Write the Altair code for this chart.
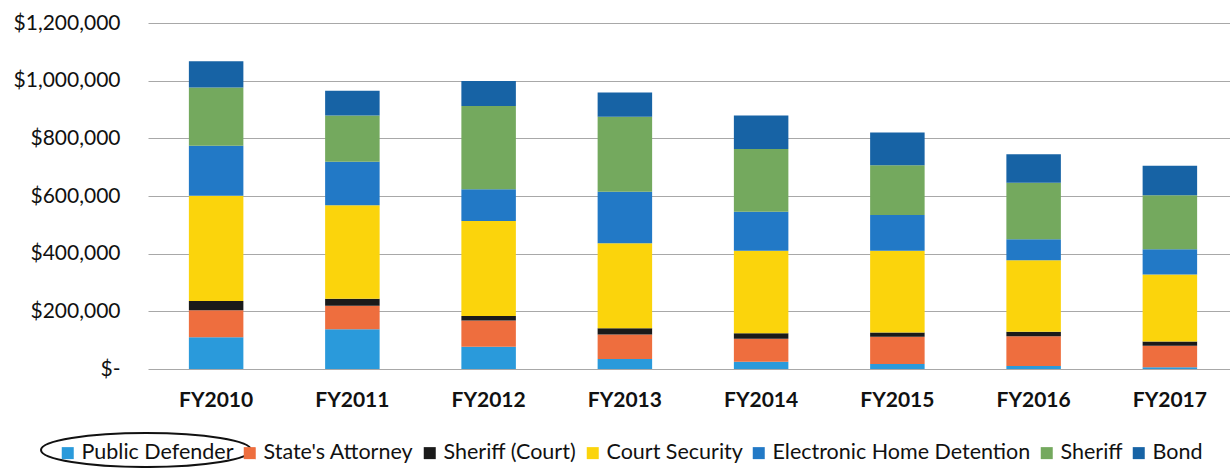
import altair as alt
import pandas as pd

years = ["FY2010", "FY2011", "FY2012", "FY2013", "FY2014", "FY2015", "FY2016", "FY2017"]
series = ["Public Defender", "State's Attorney", "Sheriff (Court)", "Court Security",
          "Electronic Home Detention", "Sheriff", "Bond"]
colors = ["#2A9ADB", "#EE6E3E", "#1A1A1A", "#FBD40C", "#2279C6", "#74A95E", "#1763A5"]

public_defender = [110000, 138000, 77000, 35000, 25000, 17000, 10000, 6000]
states_attorney = [94000, 81000, 91000, 85000, 80000, 95000, 104000, 75000]
sheriff_court = [32000, 25000, 16000, 21000, 19000, 15000, 15000, 14000]
court_security = [365000, 324000, 329000, 295000, 286000, 283000, 248000, 233000]
electronic_home_detention = [173000, 151000, 110000, 179000, 135000, 124000, 73000, 87000]
sheriff = [202000, 160000, 289000, 260000, 218000, 173000, 196000, 188000]
bond = [91000, 86000, 87000, 84000, 116000, 113000, 99000, 102000]

values = [public_defender, states_attorney, sheriff_court, court_security,
          electronic_home_detention, sheriff, bond]

rows = []
for i, (name, vals) in enumerate(zip(series, values)):
    for y, v in zip(years, vals):
        rows.append({"Year": y, "Series": name, "Amount": v, "order": i})
df = pd.DataFrame(rows)

FONT = "Lato"

bars = alt.Chart(df).mark_bar().encode(
    x=alt.X("Year:N", sort=years,
            scale=alt.Scale(paddingInner=0.6, paddingOuter=0.3, range=[0, 1090]),
            axis=alt.Axis(title=None, labelAngle=0, domain=False, ticks=False, tickSize=0,
                          labelFont=FONT, labelFontSize=21, labelFontWeight="bold",
                          labelColor="#111111", labelPadding=20)),
    y=alt.Y("Amount:Q", stack="zero",
            scale=alt.Scale(domain=[0, 1200000], nice=False),
            axis=alt.Axis(title=None, values=[0, 200000, 400000, 600000, 800000, 1000000, 1200000],
                          labelExpr="datum.value == 0 ? '$-' : '$' + format(datum.value, ',')",
                          domain=False, ticks=False, tickSize=0, grid=True,
                          gridColor="#A8A8A8", gridWidth=1,
                          labelFont=FONT, labelFontSize=21, labelColor="#111111",
                          labelPadding=28)),
    color=alt.Color("Series:N", sort=series,
                    scale=alt.Scale(domain=series, range=colors),
                    legend=alt.Legend(title=None, orient="none", direction="horizontal",
                                      legendX=-91, legendY=419, columns=7,
                                      symbolType="square", symbolSize=144,
                                      symbolStrokeWidth=0, labelLimit=0,
                                      labelFont=FONT, labelFontSize=21.5, labelColor="#111111",
                                      labelOffset=3, columnPadding=5, padding=0)),
    order=alt.Order("order:Q", sort="ascending"),
)

ellipse_df = pd.DataFrame({"label": ["Public Defender"]})
ellipse = alt.Chart(ellipse_df).mark_point(
    shape="M -1 0 A 1 0.162 0 1 1 1 0 A 1 0.162 0 1 1 -1 0 Z",
    filled=False, stroke="#111111", strokeWidth=2, size=44100, opacity=1,
).encode(x=alt.value(-2), y=alt.value(427))

chart = alt.layer(bars, ellipse).properties(
    width=1082, height=346,
    autosize=alt.AutoSizeParams(type="none"),
    padding={"left": 148, "top": 23, "right": 0, "bottom": 99},
    background="white",
).configure_view(stroke=None)

chart.save("out.html", embed_options={"renderer": "svg", "actions": False})
